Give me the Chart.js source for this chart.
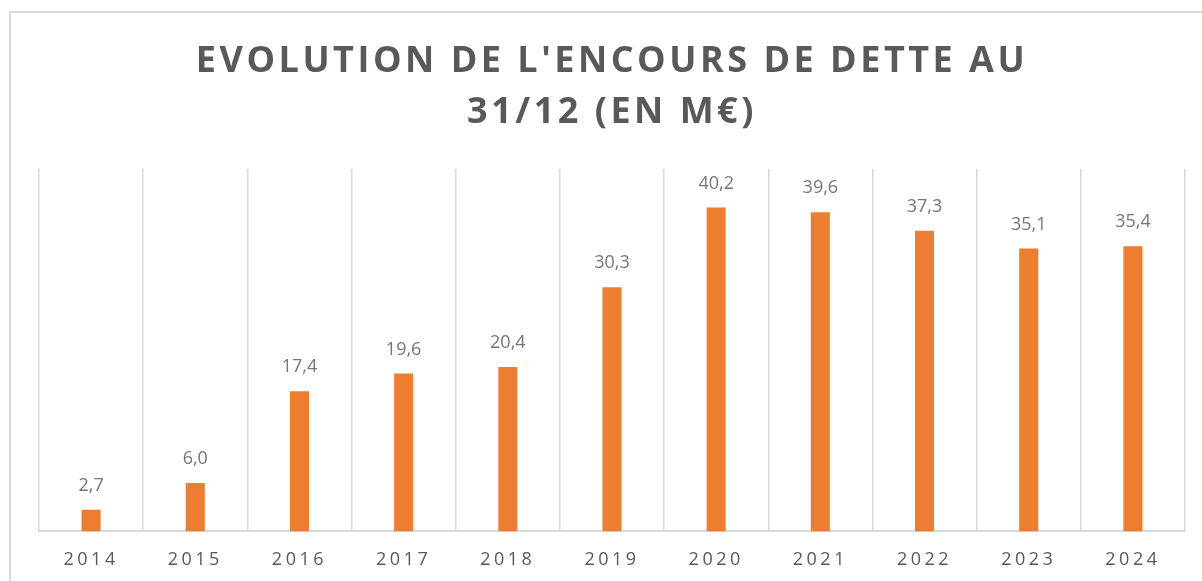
<!DOCTYPE html>
<html>
<head>
<meta charset="utf-8">
<script src="https://cdn.jsdelivr.net/npm/chart.js@4"></script>
<style>
  html, body { margin: 0; padding: 0; background: #fff; overflow: hidden; }
  #cadre { position: absolute; left: 9px; top: 11px; width: 1200px; height: 600px; border: 2px solid #d9d9d9; }
  #zone { position: absolute; left: 0; top: 0; width: 1202px; height: 581px; overflow: hidden; }
</style>
</head>
<body>
<div id="cadre"></div>
<div id="zone"><canvas id="myChart" width="1202" height="597"></canvas></div>
<script>
// donnees du graphique
const annees = ['2014', '2015', '2016', '2017', '2018', '2019', '2020', '2021', '2022', '2023', '2024'];
const encours = [2.7, 6.0, 17.4, 19.6, 20.4, 30.3, 40.2, 39.6, 37.3, 35.1, 35.4];
const titre = ["EVOLUTION DE L'ENCOURS DE DETTE AU", "31/12 (EN M€)"];

const gris = '#595959';

// espacement des lettres pour le titre et les annees
const espacement = {
    id: 'espacement',
    beforeDraw: (chart) => {
        chart.ctx.letterSpacing = '3.5px';
    },
    afterDatasetsDraw: (chart) => {
        const ctx = chart.ctx;
        ctx.save();
        ctx.letterSpacing = '0px';
        ctx.font = '18px "Open Sans"';
        ctx.fillStyle = '#767676';
        ctx.textAlign = 'center';
        ctx.textBaseline = 'middle';
        chart.getDatasetMeta(0).data.forEach((barre, i) => {
            ctx.fillText(encours[i].toFixed(1).replace('.', ','), barre.x, barre.y - 24);
        });
        ctx.restore();
    }
};

const ctx = document.getElementById('myChart');

new Chart(ctx, {
    type: 'bar',
    data: {
        labels: annees,
        datasets: [{
            data: encours,
            backgroundColor: '#ED7D31',
            categoryPercentage: 1,
            barPercentage: 0.183
        }]
    },
    options: {
        responsive: false,
        animation: false,
        devicePixelRatio: 1,
        layout: { padding: { left: 39, right: 17, top: 0, bottom: 8 } },
        plugins: {
            legend: { display: false },
            tooltip: { enabled: false },
            title: {
                display: true,
                text: titre,
                color: gris,
                font: { family: 'Open Sans', size: 36, weight: 'bold', lineHeight: 1.4 },
                padding: { top: 37, bottom: 31 }
            }
        },
        scales: {
            x: {
                grid: { color: '#d9d9d9', lineWidth: 1.5, drawTicks: false, offset: true },
                border: { color: '#d9d9d9', width: 2 },
                ticks: { color: gris, padding: 18, font: { family: 'Open Sans', size: 18 } }
            },
            y: {
                display: false,
                min: 0,
                max: 45
            }
        }
    },
    plugins: [espacement]
});
</script>
</body>
</html>
